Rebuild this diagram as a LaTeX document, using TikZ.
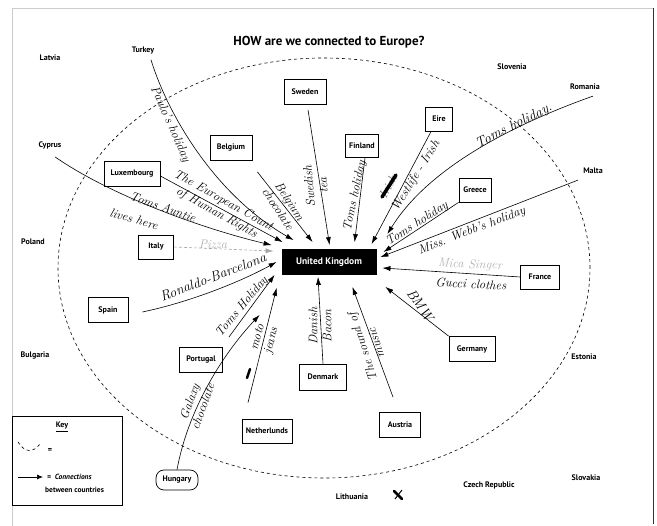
\documentclass[tikz,border=0pt]{standalone}
\usepackage{fontspec}
\newfontfamily\lab{PT Sans}
\usetikzlibrary{arrows.meta,calc}
\tikzset{
  box/.style={draw, line width=0.8pt, inner sep=0pt, font=\lab\bfseries\fontsize{8}{9}\selectfont},
  plain/.style={inner sep=1pt, font=\lab\bfseries\fontsize{8}{9}\selectfont},
  hand/.style={inner sep=1pt, align=center, font=\fontsize{12.5}{14}\selectfont\itshape\addfontfeatures{LetterSpace=4}},
  bighand/.style={hand, font=\fontsize{14}{15}\selectfont\itshape\addfontfeatures{LetterSpace=5}},
  faint/.style={hand, text=black!30},
  conn/.style={line width=0.6pt, -{Latex[length=8pt,width=5pt]}},
  fconn/.style={conn, draw=black!35, densely dashed}
}
\begin{document}
\begin{tikzpicture}[x=1pt,y=-1pt]
\useasboundingbox (0,0) rectangle (657,526);
% paper edges
\draw[black!20, line width=0.8pt] (12,526) -- (12,8) -- (653,8);
\draw[black!80, line width=0.9pt] (653,8) -- (653,524);
% title
\node[font=\lab\bfseries\fontsize{13}{14}\selectfont] (title) at (329,42) {HOW are we connected to Europe?};
% ellipse
\draw[dashed, line width=0.6pt] (324,268) ellipse [x radius=266pt, y radius=210pt];

% outside countries
\node[plain] (latvia) at (50,58) {Latvia};
\node[plain] (turkey) at (143,51) {Turkey};
\node[plain] (slovenia) at (512,67) {Slovenia};
\node[plain] (romania) at (585,87) {Romania};
\node[plain] (cyprus) at (50,145) {Cyprus};
\node[plain] (malta) at (593,171) {Malta};
\node[plain] (poland) at (33,242) {Poland};
\node[plain] (bulgaria) at (35,356) {Bulgaria};
\node[plain] (estonia) at (584,357) {Estonia};
\node[plain] (lithuania) at (352,497) {Lithuania};
\node[plain] (czech) at (489,485) {Czech Republic};
\node[plain] (slovakia) at (586,478) {Slovakia};
\node[plain, draw, line width=0.7pt, rounded corners=8pt, minimum width=42pt, minimum height=20pt] (hungary) at (177,480) {Hungary};

% boxes
\node[box, minimum width=42pt, minimum height=25pt] (sweden) at (305,92) {Sweden};
\node[box, minimum width=27pt, minimum height=24pt] (eire) at (439,119) {Eire};
\node[box, minimum width=33pt, minimum height=23pt] (finland) at (362,146) {Finland};
\node[box, minimum width=42pt, minimum height=25pt] (belgium) at (231,148) {Belgium};
\node[box, minimum width=56pt, minimum height=25pt] (lux) at (132,174) {Luxembourg};
\node[box, minimum width=32pt, minimum height=24pt] (greece) at (475,190) {Greece};
\node[box, minimum width=35pt, minimum height=24pt] (italy) at (156,247) {Italy};
\node[box, minimum width=39pt, minimum height=24pt] (france) at (540,277) {France};
\node[box, minimum width=40pt, minimum height=25pt] (spain) at (108,310) {Spain};
\node[box, fill=black, text=white, font=\lab\bfseries\fontsize{9.5}{10}\selectfont, minimum width=94pt, minimum height=25pt] (uk) at (329,262) {United Kingdom};
\node[box, minimum width=43pt, minimum height=25pt] (portugal) at (201,360) {Portugal};
\node[box, minimum width=46pt, minimum height=25pt] (germany) at (472,349) {Germany};
\node[box, minimum width=47pt, minimum height=26pt] (denmark) at (323,377) {Denmark};
\node[box, minimum width=50pt, minimum height=24pt] (netherlands) at (267,431) {Netherlunds};
\node[box, minimum width=41pt, minimum height=25pt] (austria) at (400,425) {Austria};

% connectors
\draw[conn] ([shift={(8,4)}]turkey.south) .. controls (168,115) and (215,195) .. ([shift={(12,-9)}]uk.north west);
\draw[conn] ([shift={(5,11)}]belgium.south east) -- ([shift={(31,-7)}]uk.north west);
\draw[conn] ([shift={(3,5)}]sweden.south) -- ([shift={(48,-4)}]uk.north west);
\draw[conn] ([shift={(3,0)}]finland.south) -- ([shift={(73,-7)}]uk.north west);
\draw[conn] ([shift={(6,0)}]eire.south west) -- ([shift={(90,-5)}]uk.north west);
\draw[conn] ([shift={(8,5)}]romania.south) .. controls (520,122) and (430,165) .. ([shift={(11,-15)}]uk.north east);
\draw[conn] (greece.south west) -- ([shift={(7,3)}]uk.north east);
\draw[conn] ([shift={(-4,5)}]malta.south west) -- ([shift={(4,8)}]uk.north east);
\draw[conn] (france.west) -- ([shift={(6,6)}]uk.east);
\draw[conn] (germany.north west) -- ([shift={(9,12)}]uk.south east);
\draw[conn] ([shift={(-7,-15)}]austria.north) -- ([shift={(-24,12)}]uk.south east);
\draw[conn] (denmark.north) -- ([shift={(-11,2)}]uk.south);
\draw[conn] ([shift={(-19,-16)}]netherlands.north) -- ([shift={(-5,13)}]uk.south west);
\draw[conn] ([shift={(6,-10)}]portugal.north east) -- ([shift={(-7,0)}]uk.south west);
\draw[conn] (hungary.north) .. controls (188,410) and (222,355) .. ([shift={(-22,40)}]uk.south west);
\draw[conn] ([shift={(14,2)}]spain.east) .. controls (190,302) and (240,282) .. ([shift={(-5,0)}]uk.west);
\draw[fconn] (italy.east) -- ([shift={(-8,2)}]uk.north west);
\draw[conn] ([shift={(5,7)}]cyprus.south) .. controls (110,195) and (200,228) .. ([shift={(-10,-4)}]uk.north west);
\draw[conn] ([shift={(0,2)}]lux.east) -- ([shift={(1,-7)}]uk.north west);

% handwritten labels
\node[hand, rotate=-66] (l-turkey) at (170,124) {Paulo's holiday};
\node[hand, rotate=-29] (l-lux) at (220,207) {The European Count\\of Human Rights};
\node[hand, rotate=-20] (l-cyp1) at (163,207) {Toms Auntie};
\node[hand, rotate=-16] (l-cyp2) at (134,219) {lives here};
\node[faint, rotate=0] (l-italy) at (213,244) {Pizza};
\node[bighand, rotate=21] (l-spain) at (213,277) {Ronaldo-Barcelona};
\node[hand, rotate=50] (l-port) at (242,307) {Toms Holiday};
\node[hand, rotate=75] (l-jeans) at (265,339) {moto\\jeans};
\node[hand, rotate=70] (l-galaxy) at (196,404) {Galaxy\\chocolate};
\node[hand, rotate=90] (l-den) at (320,326) {Danish\\Bacon};
\node[hand, rotate=108] (l-aus) at (369,345) {The sound of\\music};
\node[bighand, rotate=-55] (l-ger) at (420,305) {BMW};
\node[hand, rotate=-3] (l-fr2) at (471,284) {Gucci clothes};
\node[faint, rotate=-2] (l-fr1) at (470,265) {Mica Singer};
\node[hand, rotate=21] (l-malta) at (472,231) {Miss. Webb's holiday};
\node[hand, rotate=33] (l-greece) at (417,224) {Toms holiday};
\node[bighand, rotate=27] (l-rom) at (514,126) {Toms holiday.};
\node[hand, rotate=58] (l-eire) at (416,176) {Westlife - Irish};
\node[hand, rotate=62, text=black!55] (l-irish) at (388,187) {Irish};
\draw[line width=3.5pt, line cap=round] (382,197) -- (396,175);
\node[hand, rotate=78] (l-fin) at (355,196) {Toms holiday};
\node[hand, rotate=95] (l-swe) at (316,186) {Swedish\\tea};
\node[hand, rotate=-57] (l-bel) at (284,205) {Belgium\\chocolate};
\draw[line width=2.5pt, line cap=round] (247,378) -- (250,369);

% Lithuania mark
\draw[line width=2.5pt, line cap=round] (394,491) -- (402,499);
\draw[line width=1pt] (395,499) -- (402,490);

% key
\node[draw, line width=0.8pt, minimum width=110pt, minimum height=89pt, inner sep=0pt] (key) at (67,460.5) {};
\node[plain, font=\lab\bfseries\fontsize{8}{9}\selectfont] (keyt) at (62,427) {\underline{Key}};
\coordinate (smileA) at (18,442);
\coordinate (smileB) at (40,444);
\draw[dashed, line width=0.6pt] (smileA) .. controls (25,453) and (33,453) .. (smileB);
\node[plain] (eq1) at (50,451) {=};
\coordinate (keyA) at (18,477);
\coordinate (keyB) at (43,477);
\draw[line width=0.7pt, -{Latex[length=6pt,width=5pt]}] (keyA) -- (keyB);
\node[plain, anchor=west, font=\lab\bfseries\itshape\fontsize{7.5}{8}\selectfont] (eq2) at (46,477) {=\ \ Connections};
\node[plain, anchor=west, font=\lab\bfseries\fontsize{7.5}{8}\selectfont] (between) at (44,490) {between countries};
\end{tikzpicture}
\end{document}
